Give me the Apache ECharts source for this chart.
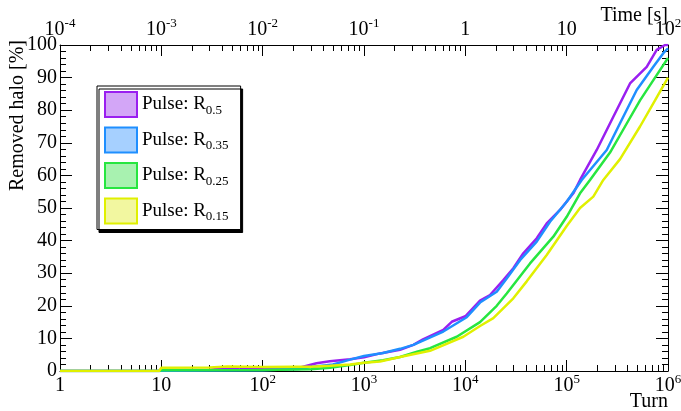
<!DOCTYPE html>
<html><head><meta charset="utf-8">
<script src="https://cdn.jsdelivr.net/npm/echarts@6/dist/echarts.min.js"></script>
<style>html,body{margin:0;padding:0;background:#fff}#c{width:681px;height:411px}</style>
</head><body><div id="c"></div>
<script>
// ---- data ----
const seriesNames = ['Pulse: R0.5', 'Pulse: R0.35', 'Pulse: R0.25', 'Pulse: R0.15'];
const subscripts = ['0.5', '0.35', '0.25', '0.15'];

const turns05 = [1, 9.5, 10, 30, 45, 60, 100, 150, 230, 340, 460, 730, 1000, 1440, 2270, 3070, 3820, 6060, 7340, 10000, 13960, 17520, 23700, 29750, 37350, 50640, 63560, 86010, 116300, 135500, 198000, 288700, 421900, 616600, 773900, 934600, 1000000];
const halo05  = [0, 0, 0.3, 0.4, 0.9, 0.5, 0.5, 0.6, 1.0, 2.4, 3.0, 3.6, 4.2, 5.4, 6.5, 8.0, 9.7, 12.6, 15.1, 16.8, 21.6, 23.3, 27.9, 31.5, 36.1, 40.7, 45.3, 49.4, 54.5, 58.6, 67.8, 78, 88.2, 93.3, 98.5, 100, 100];

const turns035 = [1, 9.5, 10, 100, 230, 300, 494, 728, 1000, 1440, 1540, 2270, 3070, 6060, 10320, 13960, 20400, 25610, 34640, 50640, 68490, 100100, 140800, 248500, 336100, 491200, 716400, 899000, 1000000];
const halo035  = [0, 0, 0.1, 0.2, 0.6, 1.2, 2.0, 3.5, 4.6, 5.4, 5.5, 6.8, 8.0, 12.1, 16.5, 21, 24.3, 28.4, 34, 39.7, 45.8, 51.9, 58.6, 67.8, 76, 86.2, 93.3, 97.5, 99];

const turns025 = [1, 9.5, 10, 100, 300, 462, 728, 1000, 1540, 2266, 3336, 4482, 8222, 13960, 20400, 25610, 43490, 73840, 100100, 135500, 170000, 267800, 376600, 529600, 744600, 1000000];
const halo025  = [0, 0, 0.2, 0.3, 0.5, 1.0, 1.8, 2.5, 3.3, 4.3, 5.9, 7.0, 10.5, 15.0, 20.0, 23.8, 33, 41.2, 47.3, 54.5, 58.6, 67, 75, 83, 90, 96];

const turns015 = [1, 9.5, 10, 30, 45, 100, 200, 300, 462, 728, 1000, 1440, 2266, 4482, 9553, 13960, 18890, 29750, 40350, 63560, 100100, 135500, 183200, 230000, 336100, 529600, 744600, 1000000];
const halo015  = [0, 0, 1.0, 1.1, 1.4, 1.2, 1.3, 1.3, 1.6, 2.0, 2.5, 2.9, 4.3, 6.2, 10.5, 13.8, 16.2, 22.3, 27.5, 35.6, 44.5, 50.0, 53.5, 58.6, 65, 75, 83, 90];

// tick labels
const turnTicks = [1, 10, 100, 1000, 10000, 100000, 1000000];
const timeTicks = [1e-4, 1e-3, 1e-2, 1e-1, 1, 10, 100];

// ---- styles ----
const lineColors = ['#9a1ff0', '#1f8fff', '#27e640', '#e0f000'];
const fillColors = ['#d3a6f7', '#a6d0ff', '#a8f2b0', '#f2f7a0'];
const FONT = 'Liberation Serif';

const allTurns = [turns05, turns035, turns025, turns015];
const allHalo = [halo05, halo035, halo025, halo015];

function expLabel(v) {
  const e = Math.round(Math.log10(v));
  if (e === 0) return '{b|1}';
  if (e === 1) return '{b|10}';
  return '{b|10}{sup|' + e + '}';
}
const richSup = {
  b: { fontFamily: FONT, fontSize: 20, color: '#000', lineHeight: 26, verticalAlign: 'middle' },
  sup: { fontFamily: FONT, fontSize: 13, color: '#000', lineHeight: 13, verticalAlign: 'top' }
};
function minorLogs(lo, hi) {
  const out = [];
  for (let e = lo; e < hi; e++) for (let k = 2; k <= 9; k++) out.push(e + Math.log10(k));
  return out;
}

const chart = echarts.init(document.getElementById('c'), null, { renderer: 'canvas' });
const axisLine = { show: true, onZero: false, lineStyle: { color: '#000', width: 1 } };
const noLine = { show: false, onZero: false };

const option = {
  backgroundColor: '#fff',
  animation: false,
  grid: { left: 60, right: 13, top: 45, bottom: 40, containLabel: false, outerBoundsMode: 'none' },
  legend: {
    orient: 'vertical', left: 97, top: 86,
    padding: [5, 12, 5, 7], itemGap: 8.5, itemWidth: 32, itemHeight: 25,
    backgroundColor: '#fff', borderColor: '#000', borderWidth: 1, borderRadius: 0,
    shadowColor: '#000', shadowOffsetX: 2, shadowOffsetY: 3, shadowBlur: 0,
    icon: 'rect',
    data: seriesNames.map((n, i) => ({ name: n, itemStyle: { color: fillColors[i], borderColor: lineColors[i], borderWidth: 2 } })),
    formatter: function (name) {
      const i = seriesNames.indexOf(name);
      return '{n|Pulse: R}{s|' + subscripts[i] + '}';
    },
    textStyle: {
      rich: {
        n: { fontFamily: FONT, fontSize: 19, color: '#000', lineHeight: 25, verticalAlign: 'middle' },
        s: { fontFamily: FONT, fontSize: 13, color: '#000', lineHeight: 13, verticalAlign: 'bottom' }
      }
    },
    selectedMode: false
  },
  xAxis: [
    { // turn axis (data)
      type: 'log', logBase: 10, min: 1, max: 1e6, position: 'bottom', gridIndex: 0,
      axisLine: axisLine, splitLine: { show: false },
      axisTick: { show: true, inside: true, length: 11, lineStyle: { color: '#000' } },
      axisLabel: { margin: 2, formatter: expLabel, rich: richSup },
      name: 'Turn', nameLocation: 'end', nameGap: 0, nameMoveOverlap: false,
      nameTextStyle: { fontFamily: FONT, fontSize: 20, color: '#000', align: 'right', verticalAlign: 'top', padding: [21, 0, 0, 0] }
    },
    { // minor ticks for turn axis (log10 space)
      type: 'value', min: 0, max: 6, position: 'bottom', gridIndex: 0,
      axisLine: noLine, splitLine: { show: false }, axisLabel: { show: false },
      axisTick: { show: true, inside: true, length: 6, customValues: minorLogs(0, 6), lineStyle: { color: '#000' } }
    },
    { // time axis
      type: 'log', logBase: 10, min: 1e-4, max: 1e2, position: 'top', gridIndex: 0,
      axisLine: axisLine, splitLine: { show: false },
      axisTick: { show: true, inside: true, length: 11, lineStyle: { color: '#000' } },
      axisLabel: { margin: 2, formatter: expLabel, rich: richSup },
      name: 'Time [s]', nameLocation: 'end', nameGap: 0, nameMoveOverlap: false,
      nameTextStyle: { fontFamily: FONT, fontSize: 20, color: '#000', align: 'right', verticalAlign: 'bottom', padding: [0, 0, 19, 0] }
    },
    { // minor ticks for time axis
      type: 'value', min: -4, max: 2, position: 'top', gridIndex: 0,
      axisLine: noLine, splitLine: { show: false }, axisLabel: { show: false },
      axisTick: { show: true, inside: true, length: 6, customValues: minorLogs(-4, 2), lineStyle: { color: '#000' } }
    }
  ],
  yAxis: [
    {
      type: 'value', min: 0, max: 100, interval: 10, position: 'left',
      axisLine: axisLine, splitLine: { show: false },
      axisTick: { show: true, inside: true, length: 12, lineStyle: { color: '#000' } },
      minorTick: { show: true, splitNumber: 5, length: 6, lineStyle: { color: '#000' } },
      axisLabel: { margin: 3, fontFamily: FONT, fontSize: 20, color: '#000' },
      name: 'Removed halo [%]', nameLocation: 'end', nameGap: 5, nameRotate: 90, nameMoveOverlap: false,
      nameTextStyle: { fontFamily: FONT, fontSize: 20, color: '#000', align: 'right', verticalAlign: 'bottom', padding: [0, 0, 32, 0] }
    },
    {
      type: 'value', min: 0, max: 100, interval: 10, position: 'right',
      axisLine: axisLine, splitLine: { show: false },
      axisTick: { show: true, inside: true, length: 12, lineStyle: { color: '#000' } },
      minorTick: { show: true, splitNumber: 5, length: 6, lineStyle: { color: '#000' } },
      axisLabel: { show: false }
    }
  ],
  series: seriesNames.map((n, i) => ({
    name: n, type: 'line', xAxisIndex: 0, yAxisIndex: 0,
    data: allTurns[i].map((t, j) => [t, allHalo[i][j]]),
    showSymbol: false, symbol: 'none',
    lineStyle: { color: lineColors[i], width: 2.5 },
    itemStyle: { color: lineColors[i] },
    z: 2 + i
  }))
};
chart.setOption(option);
</script></body></html>
